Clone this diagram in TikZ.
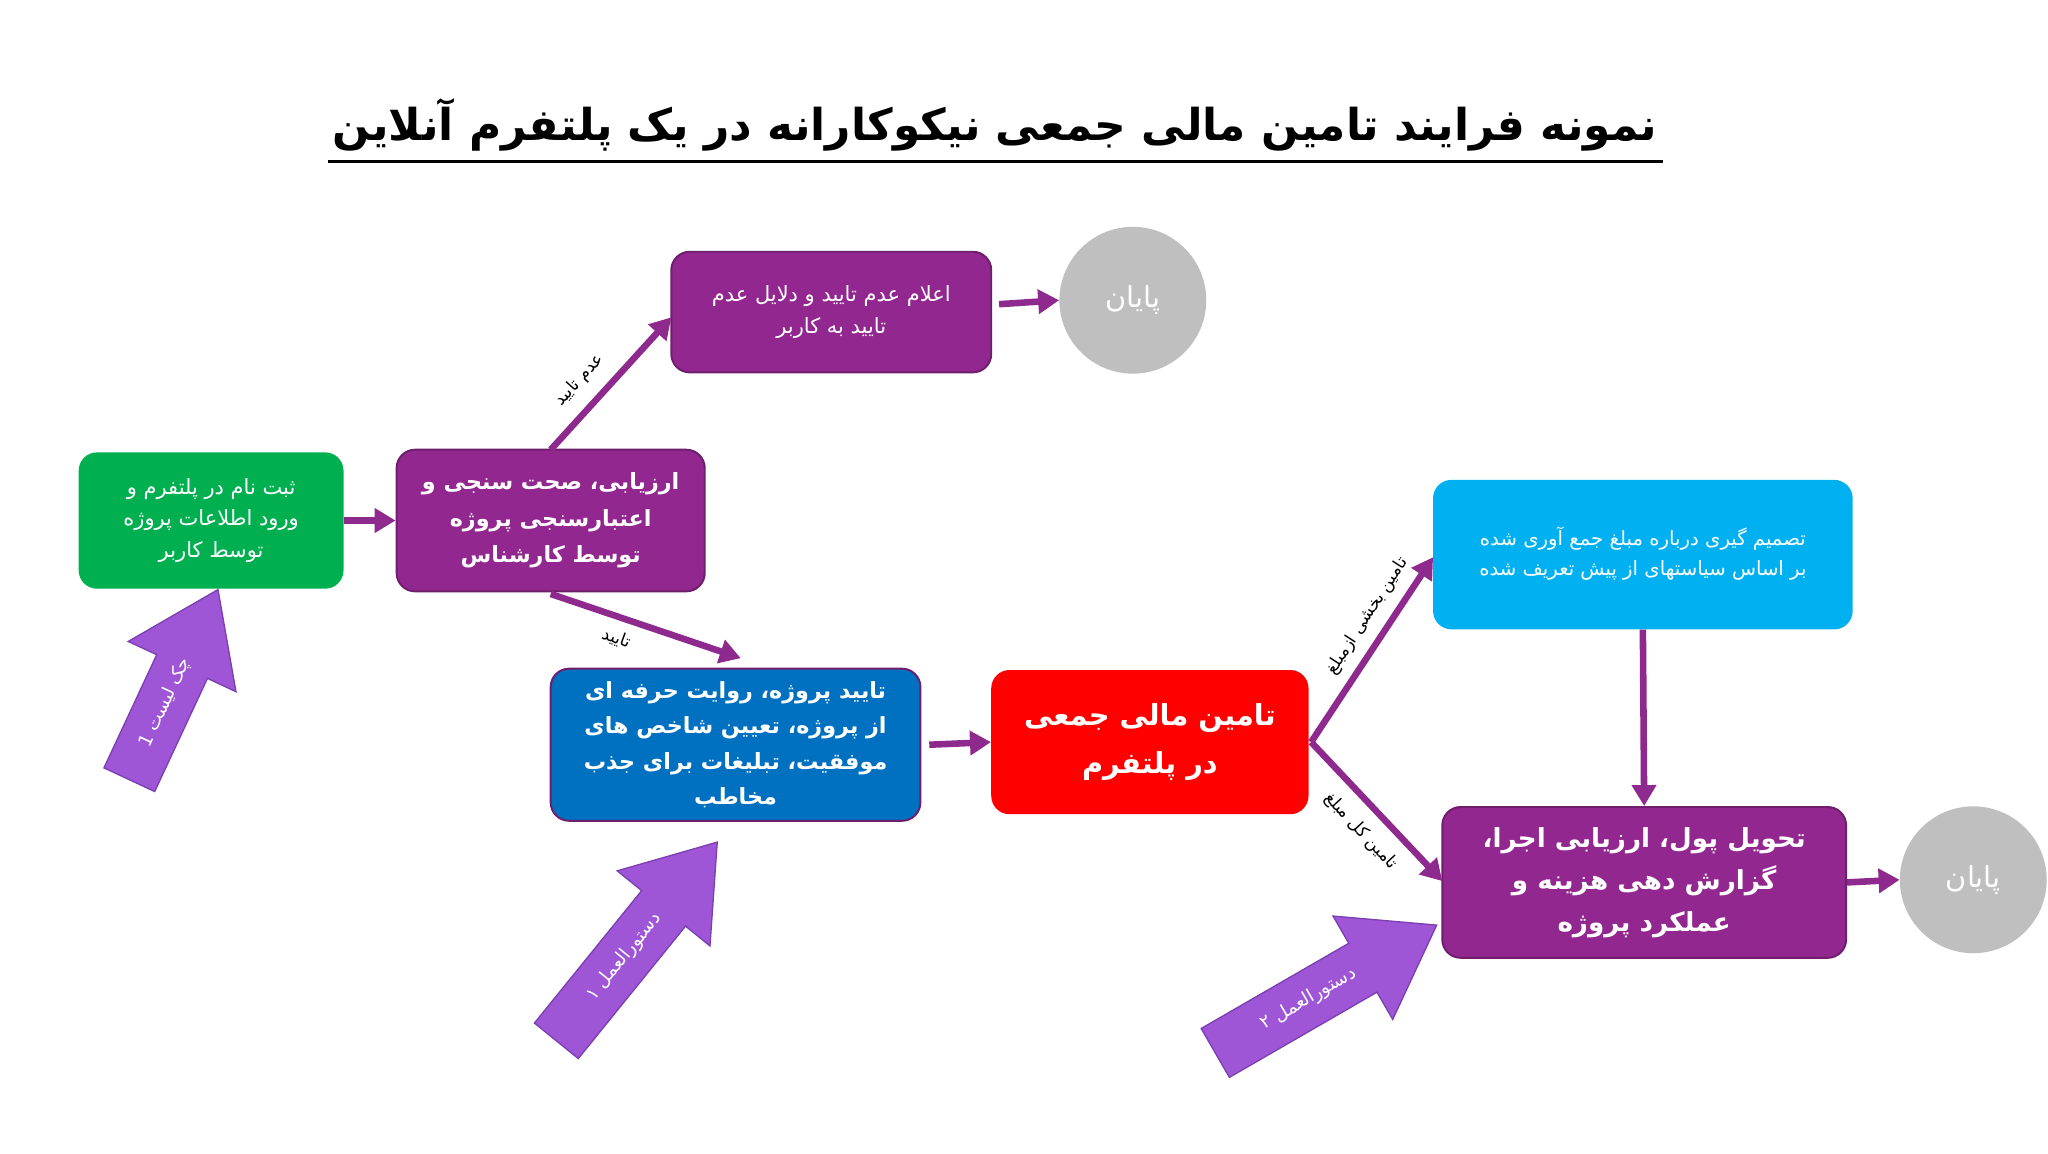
\documentclass[tikz,border=0pt]{standalone}
\usepackage{fontspec}
\usetikzlibrary{shapes.arrows,arrows.meta}
\TeXXeTstate=1
\newfontfamily\ar[Script=Arabic]{DejaVu Sans}
\definecolor{pur}{HTML}{92278F}
\definecolor{purd}{HTML}{6E1E6C}
\definecolor{arr}{HTML}{8E2A8E}
\definecolor{vio}{HTML}{9E55D6}
\definecolor{viod}{HTML}{7B3FB0}
\definecolor{grn}{HTML}{00B050}
\definecolor{blu}{HTML}{0070C0}
\definecolor{cya}{HTML}{00B0F0}
\definecolor{gry}{HTML}{BFBFBF}
\tikzset{
 box/.style={rounded corners=14pt,text=white,align=center,font=\ar,inner sep=0pt},
 endc/.style={circle,fill=gry,minimum size=112pt,text=white,font=\ar\fontsize{22}{26}\selectfont,inner sep=0pt},
 conn/.style={draw=arr,line width=5pt,-{Triangle[length=16pt,width=18pt]}},
 lbl/.style={font=\ar\fontsize{13}{15}\selectfont,inner sep=1pt},
 big/.style={single arrow,fill=vio,draw=viod,line width=1pt,text=white,font=\ar\fontsize{14}{16}\selectfont,single arrow head extend=24pt,inner ysep=14pt,inner xsep=4pt,single arrow tip angle=70}
}
\newcommand{\R}[1]{\beginR #1\endR}
\begin{document}
\begin{tikzpicture}[x=1pt,y=-1pt]
\useasboundingbox (0,0) rectangle (1562,880);
\node[font=\ar\bfseries\fontsize{33.5}{38}\selectfont] (title) at (759,95) {\R{نمونه فرایند تامین مالی جمعی نیکوکارانه در یک پلتفرم آنلاین}};
\draw[line width=2pt] (250,123) -- (1268,123);

\node[box,fill=grn,minimum width=202pt,minimum height=104pt,font=\ar\fontsize{16}{24}\selectfont] (g) at (161,397) {\R{ثبت نام در پلتفرم و}\\\R{ورود اطلاعات پروژه}\\\R{توسط کاربر}};
\node[box,fill=pur,draw=purd,line width=1.5pt,minimum width=235pt,minimum height=108pt,font=\ar\bfseries\fontsize{17}{28}\selectfont] (p1) at (420,397) {\R{ارزیابی، صحت سنجی و}\\\R{اعتبارسنجی پروژه}\\\R{توسط کارشناس}};
\node[box,fill=pur,draw=purd,line width=1.5pt,minimum width=244pt,minimum height=92pt,font=\ar\fontsize{16}{24}\selectfont] (p0) at (634,238) {\R{اعلام عدم تایید و دلایل عدم}\\\R{تایید به کاربر}};
\node[endc] (e1) at (864,229) {\R{پایان}};
\node[box,fill=blu,draw=purd,line width=1.5pt,minimum width=282pt,minimum height=116pt,font=\ar\bfseries\fontsize{17}{27}\selectfont] (b) at (561,568) {\R{تایید پروژه، روایت حرفه ای}\\\R{از پروژه، تعیین شاخص های}\\\R{موفقیت، تبلیغات برای جذب}\\\R{مخاطب}};
\node[box,fill=red,minimum width=242pt,minimum height=110pt,font=\ar\bfseries\fontsize{22}{36}\selectfont] (r) at (877,566) {\R{تامین مالی جمعی}\\\R{در پلتفرم}};
\node[box,fill=cya,minimum width=320pt,minimum height=114pt] (c) at (1253,423) {};
\node[font=\ar\fontsize{15}{23}\selectfont,text=white,align=center] (ct) at (1253,422) {\R{تصمیم گیری درباره مبلغ جمع آوری شده}\\\R{بر اساس سیاستهای از پیش تعریف شده}};
\node[box,fill=pur,draw=purd,line width=1.5pt,minimum width=308pt,minimum height=115pt,font=\ar\bfseries\fontsize{20}{32}\selectfont] (p2) at (1254,673) {\R{تحویل پول، ارزیابی اجرا،}\\\R{گزارش دهی هزینه و}\\\R{عملکرد پروژه}};
\node[endc] (e2) at (1505,671) {\R{پایان}};

\draw[conn] (g.east) -- (p1.west);
\coordinate (p1t) at (420,343);
\coordinate (p1b) at (420,453);
\coordinate (p0a) at (512,242);
\coordinate (ba) at (565,502);
\draw[conn] (p1t) -- (p0a);
\draw[conn] (p1b) -- (ba);
\coordinate (p0e) at (762,232);
\draw[conn] (p0e) -- (e1.west);
\draw[conn] ([xshift=6pt]b.east) -- (r.west);
\coordinate (rm) at (1000,566);
\coordinate (ca) at (1093,425);
\coordinate (pa) at (1100,672);
\draw[conn] (rm) -- (ca);
\draw[conn] (rm) -- (pa);
\draw[conn] (c.south) -- (p2.north);
\draw[conn] (p2.east) -- (e2.west);

\node[lbl,rotate=48] (l1) at (442,290) {\R{عدم تایید}};
\node[lbl,rotate=-20] (l2) at (470,487) {\R{تایید}};
\node[lbl,rotate=57] (l3) at (1043,470) {\R{تامین بخشی ازمبلغ}};
\node[lbl,rotate=-47] (l4) at (1038,634) {\R{تامین کل مبلغ}};

\node[big,minimum height=160pt,rotate=65] (a1) at (126,536) {\R{چک لیست 1}};
\node[big,minimum height=195pt,rotate=51] (a2) at (476,730) {\R{دستورالعمل ۱}};
\node[big,minimum height=195pt,rotate=30] (a3) at (998,762) {\R{دستورالعمل ۲}};
\end{tikzpicture}
\end{document}
